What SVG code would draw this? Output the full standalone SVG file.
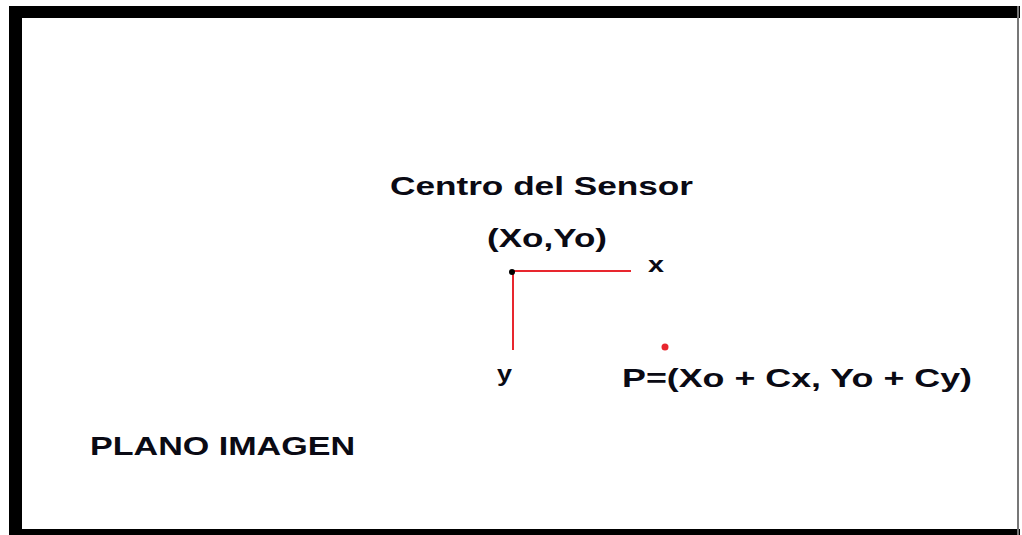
<svg xmlns="http://www.w3.org/2000/svg" width="1022" height="535" viewBox="0 0 1022 535">
<style>
.t{font-family:"Liberation Sans",Arial,sans-serif;font-weight:bold;fill:#0a0a14}
.ax{stroke:#e8262e;stroke-width:2;fill:none}
</style>
<rect x="0" y="0" width="1022" height="535" fill="#fff"/>
<g id="frame">
<rect x="9" y="6" width="13" height="529" fill="#000"/>
<rect x="9" y="6" width="1011" height="12" fill="#000"/>
<rect x="9" y="529" width="1011" height="6" fill="#000"/>
<rect x="1017" y="6" width="2" height="529" fill="#777"/>
</g>
<g id="connectors">
<line class="ax" x1="513" y1="271" x2="631" y2="271"/>
<line class="ax" x1="513" y1="271" x2="513" y2="350"/>
</g>
<g id="title"><text class="t" x="390" y="195" font-size="26" textLength="303" lengthAdjust="spacingAndGlyphs">Centro del Sensor</text></g>
<g id="origin">
<text class="t" x="487" y="247" font-size="26" textLength="120" lengthAdjust="spacingAndGlyphs">(Xo,Yo)</text>
<circle cx="512" cy="272" r="3" fill="#000"/>
</g>
<g id="xlabel"><text class="t" x="648" y="272" font-size="22" textLength="16" lengthAdjust="spacingAndGlyphs">x</text></g>
<g id="ylabel"><text class="t" x="497" y="381" font-size="22" textLength="15" lengthAdjust="spacingAndGlyphs">y</text></g>
<g id="point">
<circle cx="665" cy="347" r="3.5" fill="#e8262e"/>
<text class="t" x="622" y="387" font-size="26" textLength="350" lengthAdjust="spacingAndGlyphs">P=(Xo + Cx, Yo + Cy)</text>
</g>
<g id="plano"><text class="t" x="90" y="455" font-size="26" textLength="265" lengthAdjust="spacingAndGlyphs">PLANO IMAGEN</text></g>
</svg>
